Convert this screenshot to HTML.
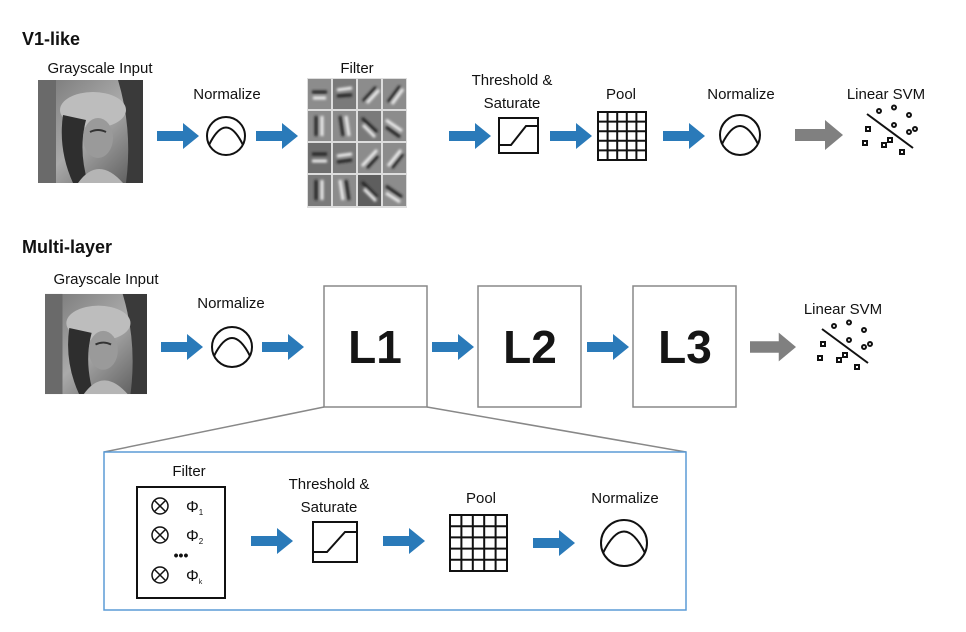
<!DOCTYPE html>
<html><head><meta charset="utf-8"><style>
html,body{margin:0;padding:0;background:#fff;}
svg{display:block;font-family:"Liberation Sans","DejaVu Sans",sans-serif;}
</style></head><body>
<svg width="966" height="632" viewBox="0 0 966 632" xmlns="http://www.w3.org/2000/svg">
<defs>
<filter id="blur" x="-20%" y="-20%" width="140%" height="140%"><feGaussianBlur stdDeviation="1.3"/></filter>
<symbol id="ba" viewBox="0 0 42 26"><path d="M0 8 H26 V0 L42 13 L26 26 V18 H0 Z" fill="#2a7ab9"/></symbol>
<symbol id="ga" viewBox="0 0 48 30"><path d="M0 9 H30 V0 L48 15 L30 30 V21 H0 Z" fill="#808080"/></symbol>
<linearGradient id="lena" x1="0" y1="0" x2="1" y2="1"><stop offset="0" stop-color="#777"/><stop offset="0.5" stop-color="#aaa"/><stop offset="1" stop-color="#555"/></linearGradient>
<symbol id="lenaimg" viewBox="0 0 105 103">
<rect width="105" height="103" fill="url(#lena)"/>
<rect x="0" y="0" width="18" height="103" fill="#6a6a6a"/>
<path d="M80 0 L105 0 L105 103 L88 103 Q95 50 80 0Z" fill="#3a3a3a"/>
<ellipse cx="55" cy="30" rx="33" ry="18" fill="#bdbdbd"/>
<path d="M25 35 Q20 70 35 103 L50 103 Q40 70 48 40Z" fill="#2e2e2e"/>
<ellipse cx="60" cy="58" rx="15" ry="20" fill="#9a9a9a"/>
<path d="M40 103 Q60 75 85 103Z" fill="#b5b5b5"/>
<path d="M52 52 Q60 48 68 52" stroke="#333" stroke-width="2" fill="none"/>
</symbol>
<symbol id="svm" viewBox="-3 -3 62 56">
<line x1="6" y1="8" x2="52" y2="42" stroke="#111" stroke-width="2"/>
<g fill="none" stroke="#111" stroke-width="2">
<circle cx="18" cy="5" r="2"/><circle cx="33" cy="1.5" r="2"/><circle cx="48" cy="9" r="2"/><circle cx="33" cy="19" r="2"/><circle cx="48" cy="26" r="2"/><circle cx="54" cy="23" r="2"/>
<rect x="5" y="21" width="4" height="4"/><rect x="2" y="35" width="4" height="4"/><rect x="21" y="37" width="4" height="4"/><rect x="27" y="32" width="4" height="4"/><rect x="39" y="44" width="4" height="4"/>
</g></symbol>
</defs>

<text x="22" y="45" font-size="18" font-weight="bold" fill="#111">V1-like</text>
<text x="100" y="73" font-size="15" text-anchor="middle" fill="#111">Grayscale Input</text>
<use href="#lenaimg" x="38" y="80" width="105" height="103"/>
<use href="#ba" x="157" y="123" width="42" height="26"/>
<text x="227" y="99" font-size="15" text-anchor="middle" fill="#111">Normalize</text>
<circle cx="226" cy="136" r="19" fill="none" stroke="#111" stroke-width="2"/>
<path d="M209 145 Q226 110 243 145" fill="none" stroke="#111" stroke-width="2"/>
<use href="#ba" x="256" y="123" width="42" height="26"/>
<text x="357" y="73" font-size="15" text-anchor="middle" fill="#111">Filter</text>
<rect x="307" y="78" width="100" height="130" fill="#ddd"/>
<g fill="#8c8c8c">
<rect x="308" y="79" width="23" height="30"/><rect x="333" y="79" width="23" height="30" fill="#7a7a7a"/><rect x="358" y="79" width="23" height="30"/><rect x="383" y="79" width="23" height="30"/>
<rect x="308" y="111" width="23" height="30"/><rect x="333" y="111" width="23" height="30"/><rect x="358" y="111" width="23" height="30" fill="#7a7a7a"/><rect x="383" y="111" width="23" height="30"/>
<rect x="308" y="143" width="23" height="30" fill="#6e6e6e"/><rect x="333" y="143" width="23" height="30" fill="#7a7a7a"/><rect x="358" y="143" width="23" height="30"/><rect x="383" y="143" width="23" height="30"/>
<rect x="308" y="175" width="23" height="31" fill="#7a7a7a"/><rect x="333" y="175" width="23" height="31"/><rect x="358" y="175" width="23" height="31" fill="#5e5e5e"/><rect x="383" y="175" width="23" height="31"/>
</g>
<g stroke-width="3" filter="url(#blur)">
<line x1="312" y1="92" x2="327" y2="92" stroke="#222"/><line x1="313" y1="98" x2="326" y2="98" stroke="#eee"/>
<line x1="337" y1="90" x2="352" y2="88" stroke="#eee"/><line x1="337" y1="96" x2="352" y2="95" stroke="#222"/>
<line x1="363" y1="101" x2="376" y2="87" stroke="#222"/><line x1="367" y1="103" x2="379" y2="90" stroke="#eee"/>
<line x1="388" y1="102" x2="400" y2="86" stroke="#222"/><line x1="392" y1="104" x2="403" y2="89" stroke="#eee"/>
<line x1="316" y1="116" x2="316" y2="136" stroke="#222"/><line x1="322" y1="116" x2="322" y2="136" stroke="#eee"/>
<line x1="340" y1="116" x2="343" y2="136" stroke="#222"/><line x1="346" y1="116" x2="349" y2="136" stroke="#eee"/>
<line x1="362" y1="118" x2="377" y2="132" stroke="#222"/><line x1="363" y1="125" x2="375" y2="137" stroke="#eee"/>
<line x1="386" y1="120" x2="402" y2="131" stroke="#eee"/><line x1="386" y1="127" x2="400" y2="137" stroke="#222"/>
<line x1="312" y1="154" x2="327" y2="154" stroke="#222"/><line x1="312" y1="161" x2="327" y2="161" stroke="#eee"/>
<line x1="337" y1="156" x2="352" y2="154" stroke="#eee"/><line x1="337" y1="162" x2="352" y2="160" stroke="#222"/>
<line x1="362" y1="166" x2="377" y2="150" stroke="#eee"/><line x1="367" y1="168" x2="378" y2="156" stroke="#222"/>
<line x1="388" y1="166" x2="401" y2="150" stroke="#eee"/><line x1="392" y1="168" x2="403" y2="154" stroke="#222"/>
<line x1="316" y1="180" x2="316" y2="200" stroke="#222"/><line x1="322" y1="180" x2="322" y2="200" stroke="#eee"/>
<line x1="340" y1="180" x2="343" y2="200" stroke="#eee"/><line x1="346" y1="180" x2="349" y2="200" stroke="#222"/>
<line x1="362" y1="182" x2="377" y2="197" stroke="#222"/><line x1="364" y1="189" x2="376" y2="201" stroke="#eee"/>
<line x1="386" y1="186" x2="402" y2="197" stroke="#222"/><line x1="386" y1="193" x2="400" y2="202" stroke="#eee"/>
</g>
<use href="#ba" x="449" y="123" width="42" height="26"/>
<text x="512" y="85" font-size="15" text-anchor="middle" fill="#111">Threshold &amp;</text>
<text x="512" y="108" font-size="15" text-anchor="middle" fill="#111">Saturate</text>
<rect x="499" y="118" width="39" height="35" fill="none" stroke="#111" stroke-width="2"/>
<path d="M499 145 H511 L526 126 H538" fill="none" stroke="#111" stroke-width="2"/>
<use href="#ba" x="550" y="123" width="42" height="26"/>
<text x="621" y="99" font-size="15" text-anchor="middle" fill="#111">Pool</text>
<g fill="none" stroke="#111" stroke-width="2">
<rect x="598" y="112" width="48" height="48"/>
<path d="M607.6 112V160M617.2 112V160M626.8 112V160M636.4 112V160M598 121.6H646M598 131.2H646M598 140.8H646M598 150.4H646"/>
</g>
<use href="#ba" x="662" y="123" width="44" height="26"/>
<text x="741" y="99" font-size="15" text-anchor="middle" fill="#111">Normalize</text>
<circle cx="740" cy="135" r="20" fill="none" stroke="#111" stroke-width="2"/>
<path d="M722 144 Q740 108 758 144" fill="none" stroke="#111" stroke-width="2"/>
<use href="#ga" x="795" y="120" width="48" height="30"/>
<text x="886" y="99" font-size="15" text-anchor="middle" fill="#111">Linear SVM</text>
<use href="#svm" x="858" y="103" width="62" height="56"/>

<text x="22" y="253" font-size="18" font-weight="bold" fill="#111">Multi-layer</text>
<text x="106" y="284" font-size="15" text-anchor="middle" fill="#111">Grayscale Input</text>
<use href="#lenaimg" x="45" y="293" width="102" height="102"/>
<use href="#ba" x="161" y="334" width="42" height="26"/>
<text x="231" y="308" font-size="15" text-anchor="middle" fill="#111">Normalize</text>
<circle cx="232" cy="347" r="20" fill="none" stroke="#111" stroke-width="2"/>
<path d="M214 356 Q232 320 250 356" fill="none" stroke="#111" stroke-width="2"/>
<use href="#ba" x="262" y="334" width="42" height="26"/>
<g fill="#fff" stroke="#888" stroke-width="1.5">
<rect x="324" y="286" width="103" height="121"/>
<rect x="478" y="286" width="103" height="121"/>
<rect x="633" y="286" width="103" height="121"/>
</g>
<g font-size="46" font-weight="bold" text-anchor="middle" fill="#151515">
<text x="375" y="363">L1</text><text x="530" y="363">L2</text><text x="685" y="363">L3</text>
</g>
<use href="#ba" x="432" y="334" width="42" height="26"/>
<use href="#ba" x="587" y="334" width="42" height="26"/>
<use href="#ga" x="750" y="332" width="46" height="30"/>
<text x="843" y="314" font-size="15" text-anchor="middle" fill="#111">Linear SVM</text>
<use href="#svm" x="813" y="318" width="62" height="56"/>

<line x1="324" y1="407" x2="104" y2="452" stroke="#888" stroke-width="1.5"/>
<line x1="427" y1="407" x2="686" y2="452" stroke="#888" stroke-width="1.5"/>
<rect x="104" y="452" width="582" height="158" fill="#fff" stroke="#5b9bd5" stroke-width="1.5"/>

<text x="189" y="476" font-size="15" text-anchor="middle" fill="#111">Filter</text>
<rect x="137" y="487" width="88" height="111" fill="none" stroke="#111" stroke-width="2"/>
<g fill="none" stroke="#111" stroke-width="1.5">
<circle cx="160" cy="506" r="8"/><path d="M154.5 500.5L165.5 511.5M165.5 500.5L154.5 511.5"/>
<circle cx="160" cy="535" r="8"/><path d="M154.5 529.5L165.5 540.5M165.5 529.5L154.5 540.5"/>
<circle cx="160" cy="575" r="8"/><path d="M154.5 569.5L165.5 580.5M165.5 569.5L154.5 580.5"/>
</g>
<g font-size="16" fill="#111">
<text x="186" y="512">Φ<tspan font-size="8" dy="3">1</tspan></text>
<text x="186" y="541">Φ<tspan font-size="8" dy="3">2</tspan></text>
<text x="186" y="581">Φ<tspan font-size="7" dy="3">k</tspan></text>
</g>
<text x="181" y="560" font-size="14" font-weight="bold" text-anchor="middle" fill="#111">•••</text>
<use href="#ba" x="248" y="528" width="48" height="26"/>
<text x="329" y="489" font-size="15" text-anchor="middle" fill="#111">Threshold &amp;</text>
<text x="329" y="512" font-size="15" text-anchor="middle" fill="#111">Saturate</text>
<rect x="313" y="522" width="44" height="40" fill="none" stroke="#111" stroke-width="2"/>
<path d="M313 552 H327 L345 532 H357" fill="none" stroke="#111" stroke-width="2"/>
<use href="#ba" x="380" y="528" width="48" height="26"/>
<text x="481" y="503" font-size="15" text-anchor="middle" fill="#111">Pool</text>
<g fill="none" stroke="#111" stroke-width="2">
<rect x="450" y="515" width="57" height="56"/>
<path d="M461.4 515V571M472.8 515V571M484.2 515V571M495.6 515V571M450 526.2H507M450 537.4H507M450 548.6H507M450 559.8H507"/>
</g>
<use href="#ba" x="530" y="530" width="48" height="26"/>
<text x="625" y="503" font-size="15" text-anchor="middle" fill="#111">Normalize</text>
<circle cx="624" cy="543" r="23" fill="none" stroke="#111" stroke-width="2"/>
<path d="M603 553 Q624 510 645 553" fill="none" stroke="#111" stroke-width="2"/>
</svg>
</body></html>
